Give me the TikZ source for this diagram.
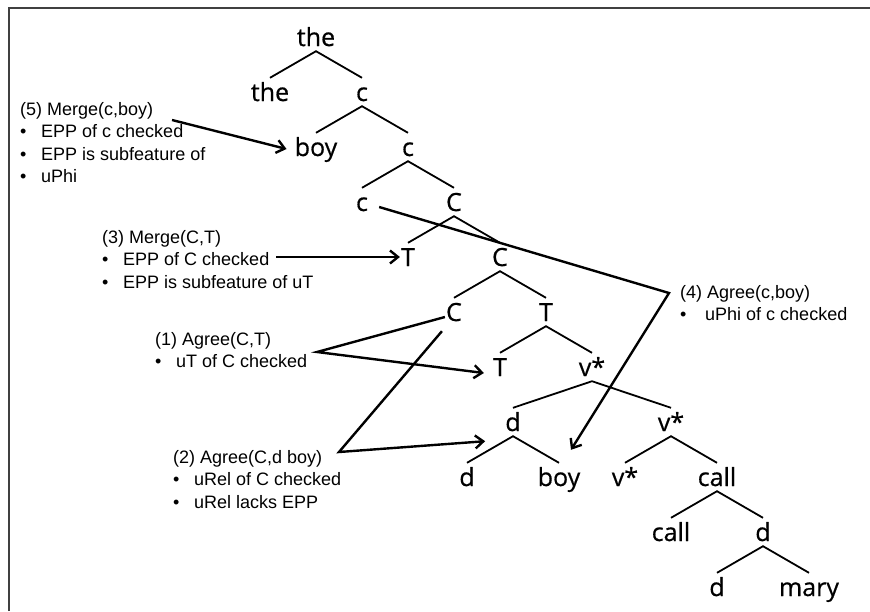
\documentclass[tikz,border=0pt]{standalone}
\usepackage{fontspec}
\setmainfont{Liberation Sans}
\newfontfamily\treefont[FakeBold=0.6]{Open Sans}
\usetikzlibrary{arrows.meta}
\newcommand{\bul}{\makebox[21pt][l]{•}}
\newcommand{\bulwide}{\makebox[25pt][l]{•}}

\begin{document}
\begin{tikzpicture}[x=1pt,y=-1pt,>={Straight Barb[length=8pt,width=13pt]},node distance=55pt,
		word/.style={font=\treefont\fontsize{25}{25}\selectfont,text height=20pt,text depth=2pt,inner xsep=1pt,inner ysep=3pt},
		note/.style={font=\fontsize{18}{22.6}\selectfont,inner sep=0pt,anchor=base west},
		branch/.style={line width=1.8pt},
		agree/.style={line width=2.4pt}]
	\useasboundingbox (0,0) rectangle (870,611);
	\draw[line width=2pt,black!75] (9,611) -- (9,8) -- (870,8);

	% Nodes
	  \node[word] (the1) at (316,37) {the};
	  \node[word] (the2) [below of=the1, xshift=-46pt] {the};
	  \node[word] (c1) [below of=the1, xshift=46pt] {c};
	  \node[word] (boy1) [below of=c1, xshift=-46pt] {boy};
	  \node[word] (c2) [below of=c1, xshift=46pt] {c};
	  \node[word] (c3) [below of=c2, xshift=-46pt] {c};
	  \node[word] (C1) [below of=c2, xshift=46pt] {C};
	  \node[word] (T1) [below of=C1, xshift=-46pt] {T};
	  \node[word] (C2) [below of=C1, xshift=46pt] {C};
	  \node[word] (C3) [below of=C2, xshift=-46pt] {C};
	  \node[word] (T2) [below of=C2, xshift=46pt] {T};
	  \node[word] (T3) [below of=T2, xshift=-46pt] {T};
	  \node[word] (v1) [below of=T2, xshift=46pt] {v*};
	  \node[word] (d1) [below of=v1, xshift=-79pt] {d};
	  \node[word] (v2) [below of=v1, xshift=79pt] {v*};
	  \node[word] (d2) [below of=d1, xshift=-46pt] {d};
	  \node[word] (boy2) [below of=d1, xshift=46pt] {boy};
	  \node[word] (v3) [below of=v2, xshift=-46pt] {v*};
	  \node[word] (call1) [below of=v2, xshift=46pt] {call};
	  \node[word] (call2) [below of=call1, xshift=-46pt] {call};
	  \node[word] (d3) [below of=call1, xshift=46pt] {d};
	  \node[word] (d4) [below of=d3, xshift=-46pt] {d};
	  \node[word] (mary) [below of=d3, xshift=46pt] {mary};

	% Edges
	  \draw[branch] (the2.north) -- (the1.south) -- (c1.north);
	  \draw[branch] (boy1.north) -- (c1.south) -- (c2.north);
	  \draw[branch] (c3.north) -- (c2.south) -- (C1.north);
	  \draw[branch] (T1.north) -- (C1.south) -- (C2.north);
	  \draw[branch] (C3.north) -- (C2.south) -- (T2.north);
	  \draw[branch] (T3.north) -- (T2.south) -- (v1.north);
	  \draw[branch] (d1.north) -- (v1.south) -- (v2.north);
	  \draw[branch] (d2.north) -- (d1.south) -- (boy2.north);
	  \draw[branch] (v3.north) -- (v2.south) -- (call1.north);
	  \draw[branch] (call2.north) -- (call1.south) -- (d3.north);
	  \draw[branch] (d4.north) -- (d3.south) -- (mary.north);

	% Notes
	  \node[note] (n5) at (20,115) {\begin{tabular}[t]{@{}l@{}}(5) Merge(c,boy)\\
	    \bul EPP of c checked\\ \bul EPP is subfeature of\\ \bul uPhi\end{tabular}};
	  \node[note] (n3) at (102,243) {\begin{tabular}[t]{@{}l@{}}(3) Merge(C,T)\\
	    \bul EPP of C checked\\ \bul EPP is subfeature of uT\end{tabular}};
	  \node[note] (n1) at (155,345) {\begin{tabular}[t]{@{}l@{}}(1) Agree(C,T)\\
	    \bul uT of C checked\end{tabular}};
	  \node[note] (n2) at (173,463) {\begin{tabular}[t]{@{}l@{}}(2) Agree(C,d boy)\\
	    \bul uRel of C checked\\ \bul uRel lacks EPP\end{tabular}};
	  \node[note] (n4) at (680,298) {\begin{tabular}[t]{@{}l@{}}(4) Agree(c,boy)\\
	    \bulwide uPhi of c checked\end{tabular}};

	  \coordinate (p5) at (172,120);
	  \coordinate (p3) at (276,257);
	  \coordinate (p1) at (317,352);
	  \coordinate (p2) at (339,452);
	  \coordinate (p4) at (669,293);

	% Arrows
	  \draw[agree,->] (p5) -- ([shift={(-7pt,-2pt)}]boy1.west);
	  \draw[agree,->] (p3) -- (T1.west);
	  \draw[agree,->] ([yshift=-5pt]C3.west) -- (p1) -- ([shift={(-8pt,-6pt)}]T3.west);
	  \draw[agree,->] ([shift={(-3pt,-5pt)}]C3.south west) -- (p2) -- ([shift={(-19pt,-5pt)}]d1.south west);
	  \draw[agree,->] ([shift={(10pt,-5pt)}]c3.east) -- (p4) -- ([shift={(12pt,13pt)}]boy2.north);
\end{tikzpicture}
\end{document}
